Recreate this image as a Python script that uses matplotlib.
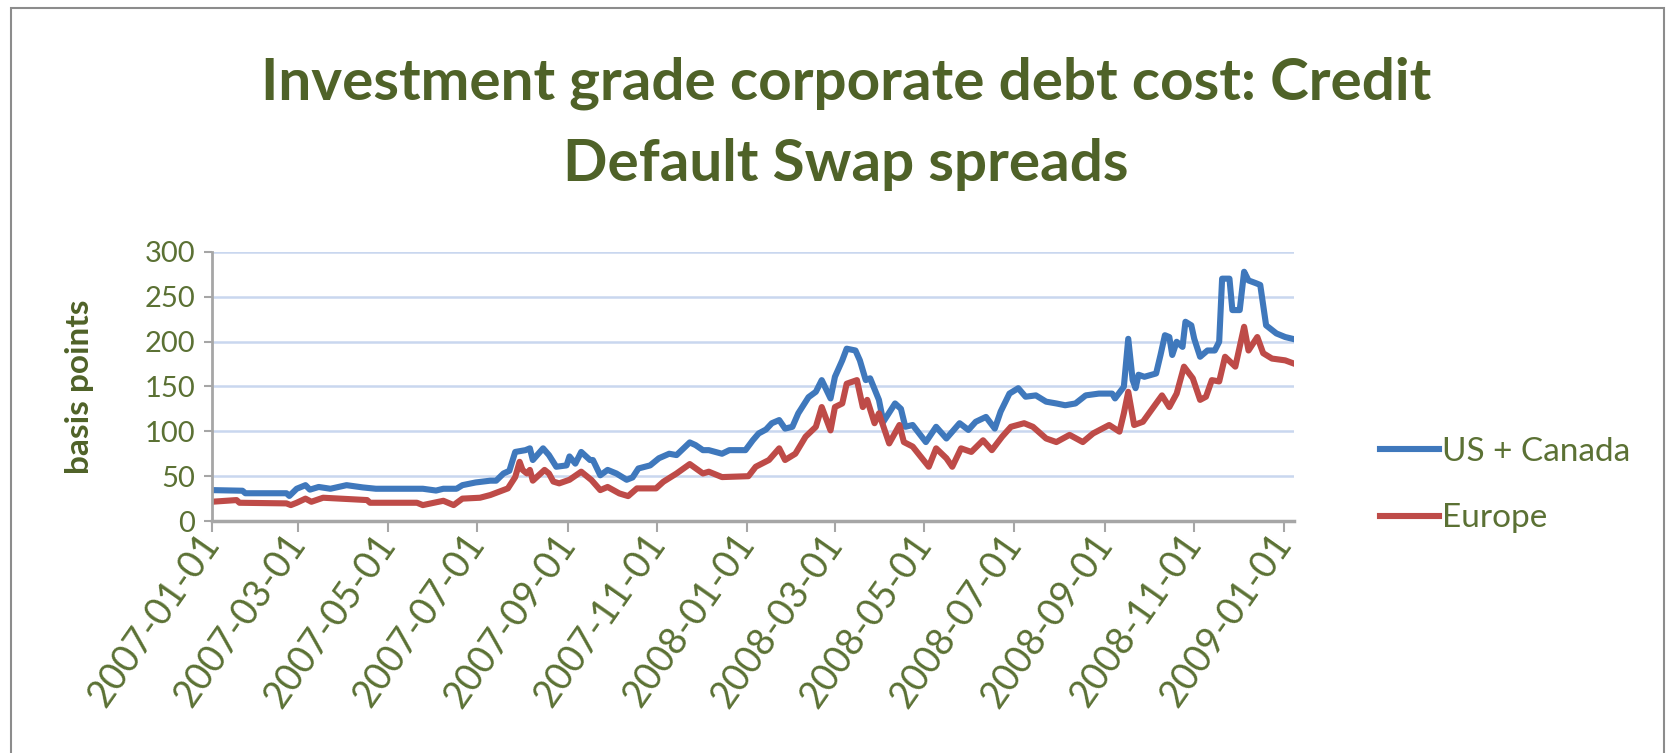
import numpy as np
import matplotlib
matplotlib.use("Agg")
import matplotlib.pyplot as plt
import matplotlib.dates as mdates
from matplotlib.patches import Rectangle

plt.rcParams['font.family'] = ['Lato', 'DejaVu Sans']

# days counted from 2007-01-01, values in basis points
us_days = [0, 21, 23, 51, 53, 58, 64, 67, 73, 81, 92, 103, 112, 144, 153, 158, 167, 171,
           180, 190, 194, 199, 203, 207, 214, 217, 219, 226, 230, 235, 242, 244, 248, 252,
           258, 260, 265, 270, 276, 283, 287, 291, 299, 305, 312, 317, 326, 330, 335, 339,
           348, 353, 364, 369, 373, 378, 382, 387, 391, 396, 400, 407, 412, 416, 422, 425,
           430, 433, 439, 442, 446, 449, 455, 458, 466, 470, 473, 478, 487, 494, 501, 510,
           516, 521, 528, 534, 538, 544, 550, 555, 562, 569, 576, 582, 589, 596, 605, 614,
           616, 622, 625, 628, 630, 632, 636, 644, 647, 650, 653, 655, 658, 662, 664, 668,
           670, 674, 679, 684, 687, 689, 694, 696, 701, 704, 707, 712, 715, 719, 726, 732, 737]
us_canada = [34.5, 33.8, 31, 31, 28, 36, 40, 35, 38, 36, 40, 37.5, 36, 36, 34, 36, 36, 40,
             43, 45, 45, 53, 56, 77, 79, 81, 68, 81, 73.5, 60.5, 62, 72, 64, 77,
             68, 68, 51, 57, 53, 46, 48.6, 58.6, 62, 70, 75, 73.5, 87.6, 84.6, 79, 79,
             75, 79, 79, 90, 97.6, 102, 109, 112.5, 103, 105, 120, 138, 144, 157, 136.6, 160.7,
             179, 192, 190, 179, 157, 159, 135, 110.6, 131, 125, 105, 107, 88, 105, 92, 109,
             101.5, 110.6, 116, 103, 122, 142, 148, 138.5, 140, 133, 131, 129, 131, 140, 142, 142,
             136.6, 149.6, 203, 157, 148, 163, 160.7, 164.4, 185, 207, 205, 185, 199.7, 194, 222, 218,
             203, 183, 190, 190, 199.7, 270, 270, 235, 235, 277.7, 268, 265, 263, 218, 209, 205, 203]

eu_days = [0, 17, 19, 51, 54, 58, 64, 68, 76, 106, 108, 140, 144, 158, 165, 171, 183, 190,
           196, 202, 207, 210, 212, 215, 217, 219, 227, 230, 233, 237, 244, 252, 259, 265,
           270, 278, 284, 290, 303, 308, 317, 326, 335, 339, 348, 366, 371, 380, 387, 391,
           398, 405, 412, 416, 422, 425, 430, 433, 440, 444, 447, 452, 455, 462, 469, 472,
           478, 489, 494, 501, 505, 511, 518, 526, 532, 539, 545, 554, 560, 569, 576, 585,
           594, 601, 612, 619, 622, 625, 629, 635, 644, 648, 653, 658, 663, 669, 674, 678,
           682, 687, 691, 698, 704, 707, 713, 717, 723, 732, 737]
europe = [21.5, 23.4, 20.4, 19.7, 17.8, 20.4, 25, 21.5, 26, 23.4, 20.4, 20.4, 17.8, 22.6, 17.8, 25, 26, 29,
          32.7, 36.4, 49, 66, 57, 53, 57, 45, 57, 53, 44, 42, 46, 55, 45.7, 34.5,
          38, 30.8, 27.8, 36.4, 36.4, 43.8, 53, 63.5, 53, 55, 49, 50, 60.5, 68, 81, 68,
          75, 94, 105, 127, 101, 127, 131, 153, 157, 127, 135, 109, 120, 86.5, 107, 88,
          83, 60.5, 81, 70, 60.5, 81, 77, 90, 79, 94, 105, 109, 105, 92, 88, 96,
          88, 97.6, 107, 99.6, 120, 144, 107, 110.6, 131, 140, 127, 142, 172, 159, 135, 138.5,
          157, 155.5, 183, 172, 216.4, 190, 205, 187, 181, 179, 176]

start = np.datetime64('2007-01-01')
us_dates = start + np.array(us_days, dtype='timedelta64[D]')
eu_dates = start + np.array(eu_days, dtype='timedelta64[D]')

green_dark = '#4F6228'
green_text = '#5B7134'
grey = '#A6A6A6'

fig = plt.figure(figsize=(16.69, 7.53), dpi=100)
ax = fig.add_axes([0.1268, 0.308, 0.6485, 0.3577])

ax.plot(us_dates, us_canada, color='#3F78BC', lw=4.4, label='US + Canada', solid_joinstyle='round')
ax.plot(eu_dates, europe, color='#BE4B48', lw=4.4, label='Europe', solid_joinstyle='round')

ax.set_ylim(0, 300)
ax.set_yticks(range(0, 301, 50))
ax.set_xlim(np.datetime64('2007-01-01'), np.datetime64('2009-01-08'))
ax.xaxis.set_major_locator(mdates.MonthLocator(bymonth=[1, 3, 5, 7, 9, 11]))
ax.xaxis.set_major_formatter(mdates.DateFormatter('%Y-%m-%d'))

ax.grid(axis='y', color='#C9D7EF', lw=1.8)
ax.set_axisbelow(True)
for s in ['top', 'right']:
    ax.spines[s].set_visible(False)
ax.spines['left'].set_color(grey)
ax.spines['left'].set_linewidth(2)
ax.spines['bottom'].set_color(grey)
ax.spines['bottom'].set_linewidth(2.5)

ax.tick_params(axis='y', colors=grey, labelcolor=green_text, labelsize=21, length=6, width=1.5, pad=6)
ax.tick_params(axis='x', colors=grey, labelcolor=green_text, labelsize=27, length=8, width=1.5, pad=4)
for lab in ax.get_xticklabels():
    lab.set_rotation(55)
    lab.set_ha('right')
    lab.set_va('center')
    lab.set_rotation_mode('anchor')

ax.set_ylabel('basis points', fontsize=24, fontweight='bold', color=green_dark, labelpad=36)

fig.text(0.507, 0.889, 'Investment grade corporate debt cost: Credit', ha='center', va='center',
         fontsize=42, fontweight='bold', color=green_dark)
fig.text(0.507, 0.781, 'Default Swap spreads', ha='center', va='center',
         fontsize=42, fontweight='bold', color=green_dark)

leg = ax.legend(loc='center left', bbox_to_anchor=(0.827, 0.356), bbox_transform=fig.transFigure,
                frameon=False, fontsize=24, handlelength=1.75, handletextpad=0.1,
                labelspacing=1.1, borderpad=0, borderaxespad=0)
for t in leg.get_texts():
    t.set_color(green_text)

fig.patches.append(Rectangle((0.0066, -0.01), 0.9904, 0.9994, transform=fig.transFigure,
                             fill=False, edgecolor='#8C8C8C', lw=1.5))

fig.savefig('out.png', dpi=100)
